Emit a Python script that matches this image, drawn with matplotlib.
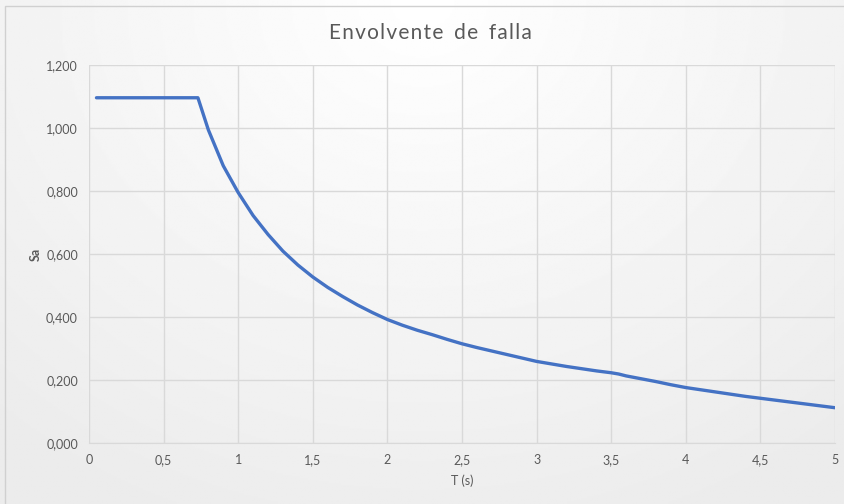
import numpy as np
import matplotlib.pyplot as plt
from matplotlib.ticker import FuncFormatter, MultipleLocator
from matplotlib.patches import Rectangle

plt.rcParams['font.family'] = ['Lato', 'DejaVu Sans']

titulo = 'Envolvente de falla'

# periodo (s) y aceleracion espectral
T = [0.05, 0.1, 0.2, 0.3, 0.4, 0.5, 0.6, 0.7, 0.73,
     0.8, 0.9, 1.0, 1.1, 1.2, 1.3, 1.4, 1.5, 1.6, 1.7, 1.8, 1.9,
     2.0, 2.1, 2.2, 2.3, 2.4, 2.5, 2.6, 2.7, 2.8, 2.9,
     3.0, 3.1, 3.2, 3.3, 3.4, 3.5, 3.55, 3.6, 3.7, 3.8, 3.9,
     4.0, 4.1, 4.2, 4.3, 4.4, 4.5, 4.6, 4.7, 4.8, 4.9, 5.0]
Sa = [1.096, 1.096, 1.096, 1.096, 1.096, 1.096, 1.096, 1.096, 1.096,
      0.994, 0.880, 0.795, 0.722, 0.662, 0.609, 0.565, 0.527, 0.494, 0.465, 0.438, 0.414,
      0.392, 0.374, 0.358, 0.344, 0.329, 0.315, 0.303, 0.292, 0.281, 0.270,
      0.259, 0.251, 0.243, 0.236, 0.229, 0.223, 0.219, 0.213, 0.204, 0.195, 0.185,
      0.176, 0.169, 0.162, 0.155, 0.148, 0.142, 0.136, 0.130, 0.124, 0.118, 0.112]

fig = plt.figure(figsize=(8.45, 5.04), dpi=100)

# fondo con degradado radial
bg = fig.add_axes([0, 0, 1, 1], zorder=-10)
yy, xx = np.mgrid[0:1:300j, 0:1:500j]
r = np.sqrt(((xx - 0.5) / 0.75) ** 2 + ((yy - 0.0) / 1.1) ** 2)
shade = 1.0 - 0.075 * np.clip(r, 0, 1)
bg.imshow(shade, cmap='gray', vmin=0, vmax=1, extent=[0, 1, 1, 0], aspect='auto')
bg.add_patch(Rectangle((5 / 845, -0.1), 1.2, 1 - 6 / 504 + 0.1, fill=False,
                       edgecolor='#d0d0d0', lw=1, transform=bg.transAxes))
bg.set_xlim(0, 1)
bg.set_ylim(1, 0)
bg.axis('off')

ax = fig.add_axes([89 / 845, 1 - 443 / 504, 746 / 845, 378 / 504])
ax.set_facecolor('none')
ax.plot(T, Sa, color='#4472C4', lw=2.4, solid_capstyle='round', zorder=3)

ax.set_xlim(0, 5)
ax.set_ylim(0, 1.2)
ax.xaxis.set_major_locator(MultipleLocator(0.5))
ax.yaxis.set_major_locator(MultipleLocator(0.2))
ax.xaxis.set_major_formatter(FuncFormatter(lambda v, p: ('%g' % v).replace('.', ',')))
ax.yaxis.set_major_formatter(FuncFormatter(lambda v, p: ('%.3f' % v).replace('.', ',')))
ax.grid(True, color='#d9d9d9', lw=1)
ax.set_axisbelow(True)
for s in ['top', 'right', 'left']:
    ax.spines[s].set_visible(False)
ax.spines['bottom'].set_color('#d9d9d9')
ax.tick_params(length=0, colors='#595959', labelsize=9, pad=8)

# titulo con letras espaciadas
espaciado = '  '.join('\u200a'.join(w) for w in titulo.split())
fig.text(430 / 845, 1 - 33 / 504, espaciado,
         ha='center', va='center', fontsize=15, color='#595959')
ax.set_xlabel('T (s)', fontsize=9, color='#595959', labelpad=6)
ax.set_ylabel('Sa', fontsize=9, color='#595959', fontweight='bold', labelpad=3)

fig.savefig('out.png', dpi=100)
